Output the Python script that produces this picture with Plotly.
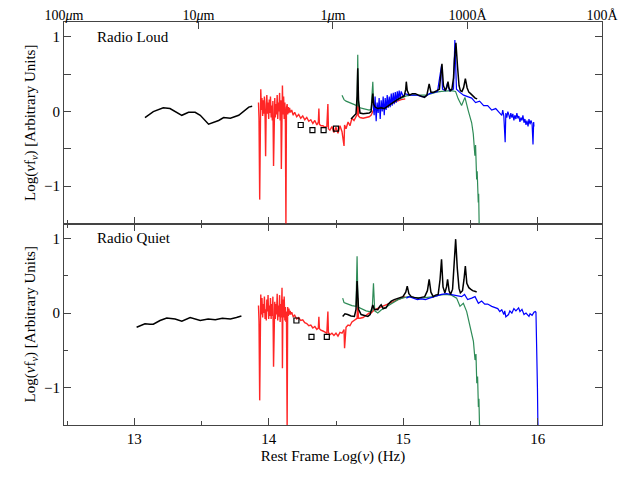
import numpy as np
import plotly.graph_objects as go

# --- data (log nu [Hz], log nu f_nu) ---
# mid-IR composite
rl_ir_nu = [13.079, 13.141, 13.215, 13.265, 13.353, 13.403, 13.452, 13.490, 13.552, 13.627,
            13.664, 13.714, 13.776, 13.851, 13.876]
rl_ir = [-0.08, 0.00, 0.05, 0.04, -0.05, -0.01, -0.01, -0.05, -0.17, -0.12,
         -0.08, -0.09, -0.05, 0.06, 0.07]
rq_ir_nu = [13.017, 13.041, 13.079, 13.116, 13.141, 13.191, 13.241, 13.303, 13.353, 13.415,
            13.490, 13.549, 13.602, 13.654, 13.714, 13.759, 13.796]
rq_ir = [-0.19, -0.17, -0.144, -0.15, -0.15, -0.10, -0.067, -0.08, -0.11, -0.06,
         -0.10, -0.08, -0.09, -0.07, -0.08, -0.06, -0.04]

# near-IR / optical spectrum (red), same grid in both panels
red_nu = [13.923, 13.927, 13.932, 13.937, 13.940, 13.945, 13.949, 13.954, 13.958, 13.963,
          13.967, 13.972, 13.976, 13.981, 13.985, 13.990, 13.994, 13.999, 14.003, 14.008,
          14.012, 14.017, 14.021, 14.026, 14.030, 14.035, 14.039, 14.044, 14.048, 14.053,
          14.057, 14.062, 14.066, 14.071, 14.075, 14.080, 14.084, 14.089, 14.093, 14.098,
          14.101, 14.105, 14.110, 14.114, 14.119, 14.123, 14.127, 14.131, 14.136, 14.140,
          14.145, 14.149, 14.154, 14.159, 14.162, 14.170, 14.181, 14.192, 14.207, 14.222,
          14.237, 14.252, 14.267, 14.282, 14.297, 14.312, 14.327, 14.342, 14.357, 14.368,
          14.372, 14.376, 14.387, 14.402, 14.416, 14.431, 14.439, 14.443, 14.454, 14.469,
          14.484, 14.499, 14.514, 14.529, 14.544, 14.559, 14.563, 14.574, 14.589, 14.603,
          14.618, 14.633, 14.648, 14.656, 14.661, 14.666, 14.678, 14.701, 14.723, 14.746,
          14.760, 14.783, 14.805, 14.835, 14.872, 14.910, 14.947, 14.984, 15.014]
rl_red = [0.12, -0.10, -1.18, 0.05, 0.30, 0.02, 0.18, -0.06, 0.15, -0.03,
          0.20, -0.08, -0.60, 0.10, 0.22, -0.03, 0.12, -0.10, 0.16, -0.02,
          0.20, -0.08, 0.08, -0.12, 0.14, -0.73, 0.05, 0.18, -0.08, 0.10,
          -0.04, 0.22, -0.10, 0.12, 0.00, 0.25, -0.12, 0.15, -0.77, 0.10,
          0.35, -0.04, 0.20, -0.10, 0.12, -0.15, -1.55, 0.05, 0.10, -0.04,
          0.06, -0.02, 0.05, 0.00, -0.01, 0.02, -0.05, -0.01, -0.07, -0.04,
          -0.09, -0.06, -0.11, -0.08, -0.13, -0.11, -0.16, -0.12, -0.18, -0.14,
          0.04, -0.17, -0.19, -0.19, -0.21, -0.20, 0.10, -0.23, -0.25, -0.20,
          -0.28, -0.21, -0.29, -0.19, -0.27, -0.46, -0.18, -0.23, -0.14, -0.19,
          -0.09, -0.12, -0.06, -0.04, 0.25, -0.06, -0.08, -0.09, -0.08, -0.07,
          -0.05, 0.04, 0.05, 0.06, 0.08, 0.11, 0.14, 0.16, 0.17]
rq_red = [0.10, -0.12, -1.17, 0.08, 0.25, -0.02, 0.20, -0.06, 0.12, 0.00,
          0.22, -0.08, 0.05, -0.10, 0.18, 0.02, 0.24, -0.08, 0.10, -0.04,
          0.20, -0.08, 0.12, -0.04, 0.22, -0.72, 0.06, 0.15, -0.08, 0.12,
          -0.02, 0.26, -0.10, 0.10, -0.05, 0.24, -0.12, 0.12, -0.06, 0.34,
          -0.74, 0.18, -0.06, 0.22, -0.10, 0.08, -0.12, 0.02, -1.55, 0.08,
          -0.04, 0.06, -0.02, 0.03, -0.02, 0.01, -0.05, -0.03, -0.08, -0.06,
          -0.10, -0.09, -0.13, -0.14, -0.17, -0.16, -0.20, -0.18, -0.22, -0.20,
          -0.05, -0.21, -0.23, -0.24, -0.26, -0.27, 0.02, -0.26, -0.29, -0.27,
          -0.30, -0.27, -0.31, -0.26, -0.27, -0.22, -0.47, -0.19, -0.16, -0.17,
          -0.12, -0.10, -0.08, -0.07, 0.20, -0.07, -0.07, -0.06, -0.03, 0.00,
          0.00, 0.04, 0.06, 0.08, 0.11, 0.14, 0.17, 0.20, 0.22]

# optical/UV spectrum (green)
rl_green_nu = [14.544, 14.559, 14.574, 14.596, 14.618, 14.641, 14.656, 14.661, 14.666, 14.678,
               14.701, 14.723, 14.746, 14.760, 14.773, 14.780, 14.798, 14.835, 14.872, 14.910,
               14.947, 14.984, 15.022, 15.059, 15.097, 15.134, 15.171, 15.209, 15.246, 15.284,
               15.321, 15.358, 15.388, 15.408, 15.433, 15.458, 15.483, 15.508, 15.520, 15.532,
               15.537, 15.541, 15.545, 15.549, 15.552, 15.555, 15.557, 15.560, 15.562, 15.564]
rl_green = [0.22, 0.16, 0.14, 0.12, 0.10, 0.09, 0.08, 0.76, 0.08, 0.05,
            0.04, 0.03, 0.02, 0.03, 0.40, 0.06, 0.03, 0.06, 0.09, 0.12,
            0.15, 0.18, 0.21, 0.22, 0.22, 0.21, 0.22, 0.24, 0.26, 0.27,
            0.28, 0.28, 0.27, 0.17, 0.08, 0.19, 0.01, -0.15, -0.30, -0.59,
            -0.45, -0.75, -0.91, -0.80, -1.10, -0.98, -1.22, -1.10, -1.49, -1.55]
rq_green_nu = [14.549, 14.559, 14.574, 14.598, 14.618, 14.648, 14.656, 14.663, 14.701, 14.723,
               14.748, 14.768, 14.778, 14.787, 14.810, 14.835, 14.872, 14.910, 14.960, 14.992,
               15.034, 15.074, 15.134, 15.179, 15.224, 15.269, 15.313, 15.358, 15.396, 15.421,
               15.446, 15.471, 15.496, 15.521, 15.533, 15.540, 15.546, 15.552, 15.558, 15.562,
               15.566, 15.568]
rq_green = [0.20, 0.14, 0.13, 0.11, 0.10, 0.09, 0.76, 0.08, 0.045, 0.03,
            0.02, 0.03, 0.40, 0.03, 0.00, 0.04, 0.08, 0.12, 0.18, 0.20,
            0.22, 0.21, 0.20, 0.21, 0.22, 0.24, 0.25, 0.24, 0.20, 0.09,
            0.13, 0.02, -0.16, -0.38, -0.63, -0.55, -0.94, -0.85, -1.26, -1.15,
            -1.48, -1.55]

# UV spectrum (blue)
rl_blue_nu = [14.775, 14.783, 14.790, 14.798, 14.805, 14.813, 14.820, 14.828, 14.835, 14.843,
              14.850, 14.858, 14.865, 14.872, 14.880, 14.887, 14.895, 14.902, 14.910, 14.917,
              14.925, 14.932, 14.940, 14.947, 14.955, 14.962, 14.969, 14.977, 14.984, 14.999,
              15.014, 15.044, 15.074, 15.104, 15.134, 15.164, 15.194, 15.224, 15.254, 15.284,
              15.291, 15.313, 15.328, 15.343, 15.373, 15.383, 15.395, 15.418, 15.448, 15.478,
              15.508, 15.537, 15.567, 15.597, 15.627, 15.657, 15.687, 15.717, 15.732, 15.739,
              15.747, 15.757, 15.762, 15.769, 15.777, 15.784, 15.792, 15.799, 15.807, 15.814,
              15.822, 15.829, 15.837, 15.844, 15.852, 15.859, 15.867, 15.874, 15.882, 15.889,
              15.897, 15.904, 15.912, 15.919, 15.927, 15.934, 15.942, 15.949, 15.957, 15.964,
              15.969, 15.971]
rl_blue = [0.10, -0.05, 0.20, -0.13, 0.12, -0.02, 0.18, -0.10, 0.15, 0.00,
           0.20, -0.05, 0.18, 0.02, 0.22, 0.05, 0.20, 0.06, 0.24, 0.08,
           0.25, 0.10, 0.26, 0.12, 0.27, 0.15, 0.28, 0.17, 0.27, 0.20,
           0.24, 0.22, 0.22, 0.22, 0.20, 0.20, 0.24, 0.25, 0.27, 0.62,
           0.30, 0.28, 0.38, 0.28, 0.30, 0.96, 0.30, 0.26, 0.22, 0.20,
           0.18, 0.12, 0.14, 0.08, 0.08, 0.02, 0.04, -0.02, -0.05, 0.02,
           -0.06, -0.41, -0.02, -0.08, 0.00, -0.04, -0.10, -0.02, -0.08, -0.03,
           -0.12, -0.05, -0.10, -0.02, -0.09, -0.06, -0.14, -0.08, -0.12, -0.05,
           -0.15, -0.10, -0.18, -0.12, -0.20, -0.10, -0.17, -0.12, -0.16, -0.44,
           -0.14, -0.20]
rq_blue_nu = [15.022, 15.044, 15.074, 15.104, 15.134, 15.164, 15.194, 15.224, 15.254, 15.284,
              15.321, 15.358, 15.396, 15.433, 15.455, 15.478, 15.508, 15.533, 15.558, 15.582,
              15.605, 15.627, 15.657, 15.680, 15.702, 15.717, 15.732, 15.747, 15.754, 15.762,
              15.782, 15.792, 15.807, 15.822, 15.837, 15.857, 15.867, 15.882, 15.897, 15.912,
              15.934, 15.942, 15.957, 15.971, 15.981, 15.986, 15.993, 15.997, 16.000, 16.002]
rq_blue = [0.20, 0.22, 0.20, 0.18, 0.19, 0.18, 0.20, 0.22, 0.24, 0.25,
           0.26, 0.25, 0.24, 0.22, 0.25, 0.18, 0.20, 0.22, 0.13, 0.16,
           0.12, 0.12, 0.09, 0.07, 0.06, 0.02, 0.045, -0.02, 0.03, -0.05,
           -0.02, 0.03, 0.00, 0.06, 0.03, 0.07, 0.02, 0.05, -0.02, 0.00,
           -0.045, -0.01, -0.03, 0.01, 0.02, 0.01, -0.50, -1.00, -1.44, -1.55]

# composite quasar spectrum (black)
rl_uv_nu = [14.611, 14.633, 14.648, 14.656, 14.661, 14.667, 14.678, 14.701, 14.723, 14.746,
            14.760, 14.768, 14.773, 14.779, 14.790, 14.810, 14.835, 14.858, 14.880, 14.910,
            14.932, 14.955, 14.984, 15.007, 15.018, 15.022, 15.029, 15.044, 15.067, 15.089,
            15.112, 15.134, 15.157, 15.175, 15.192, 15.205, 15.227, 15.249, 15.268, 15.279,
            15.287, 15.298, 15.312, 15.324, 15.332, 15.339, 15.349, 15.361, 15.373, 15.380,
            15.391, 15.403, 15.414, 15.424, 15.436, 15.448, 15.461, 15.474, 15.487, 15.500,
            15.511, 15.523, 15.534, 15.549]
rl_uv = [-0.10, -0.06, -0.03, 0.20, 0.58, 0.15, -0.02, -0.03, -0.03, -0.02,
         0.00, 0.12, 0.24, 0.10, 0.06, 0.04, 0.05, 0.04, 0.07, 0.10,
         0.13, 0.16, 0.19, 0.21, 0.30, 0.40, 0.28, 0.22, 0.24, 0.24,
         0.22, 0.20, 0.19, 0.22, 0.37, 0.26, 0.26, 0.28, 0.30, 0.50,
         0.64, 0.35, 0.28, 0.33, 0.40, 0.32, 0.28, 0.30, 0.45, 0.70,
         0.92, 0.60, 0.35, 0.28, 0.27, 0.32, 0.44, 0.32, 0.26, 0.24,
         0.22, 0.20, 0.18, 0.17]
rq_uv_nu = [14.549, 14.566, 14.586, 14.611, 14.636, 14.648, 14.656, 14.667, 14.686, 14.708,
            14.736, 14.753, 14.764, 14.773, 14.783, 14.810, 14.824, 14.835, 14.850, 14.872,
            14.887, 14.910, 14.932, 14.960, 14.984, 14.997, 15.018, 15.029, 15.041, 15.059,
            15.082, 15.110, 15.134, 15.159, 15.179, 15.192, 15.205, 15.222, 15.239, 15.259,
            15.273, 15.284, 15.295, 15.309, 15.321, 15.329, 15.340, 15.351, 15.366, 15.378,
            15.389, 15.401, 15.414, 15.424, 15.440, 15.451, 15.461, 15.472, 15.487, 15.500,
            15.515, 15.536, 15.545]
rq_uv = [-0.045, -0.01, -0.02, -0.04, -0.045, 0.05, 0.43, 0.05, -0.02, -0.03,
         -0.045, -0.02, 0.05, 0.11, 0.05, 0.045, 0.09, 0.11, 0.06, 0.07,
         0.12, 0.16, 0.18, 0.20, 0.21, 0.22, 0.28, 0.36, 0.26, 0.22,
         0.21, 0.20, 0.21, 0.22, 0.30, 0.45, 0.28, 0.22, 0.24, 0.25,
         0.45, 0.72, 0.35, 0.27, 0.35, 0.45, 0.30, 0.25, 0.32, 0.70,
         0.99, 0.60, 0.33, 0.27, 0.30, 0.45, 0.63, 0.40, 0.34, 0.32,
         0.30, 0.29, 0.28]

# near-IR photometry (open squares)
rl_phot_nu = [14.237, 14.324, 14.407, 14.499]
rl_phot = [-0.18, -0.25, -0.25, -0.23]
rq_phot_nu = [14.205, 14.317, 14.431]
rq_phot = [-0.10, -0.32, -0.32]

# top axis: wavelength labels
wave_m = [1e-4, 1e-5, 1e-6, 1e-7, 1e-8]
wave_labels = ["100<i>μ</i>m", "10<i>μ</i>m", "1<i>μ</i>m", "1000Å", "100Å"]

xrange_ = [12.477, 16.477]
yrange_ = [-1.5, 1.2]
FONT = "Liberation Serif"
AXCOL = "#444444"
RED = "rgba(255,0,0,0.85)"
GREEN = "#2e8b57"
BLUE = "#0000ff"

fig = go.Figure()

panels = [
    ("x2", "y", rl_ir_nu, rl_ir, rl_red, rl_green_nu, rl_green, rl_blue_nu, rl_blue,
     rl_uv_nu, rl_uv, rl_phot_nu, rl_phot),
    ("x", "y2", rq_ir_nu, rq_ir, rq_red, rq_green_nu, rq_green, rq_blue_nu, rq_blue,
     rq_uv_nu, rq_uv, rq_phot_nu, rq_phot),
]
for xa, ya, irx, iry, redy, gx, gy, bx, by, ux, uy, px, py in panels:
    fig.add_trace(go.Scatter(x=irx, y=iry, mode="lines", xaxis=xa, yaxis=ya,
                             line=dict(color="black", width=1.5)))
    fig.add_trace(go.Scatter(x=red_nu, y=redy, mode="lines", xaxis=xa, yaxis=ya,
                             line=dict(color=RED, width=1.4)))
    fig.add_trace(go.Scatter(x=gx, y=gy, mode="lines", xaxis=xa, yaxis=ya,
                             line=dict(color=GREEN, width=1.2)))
    fig.add_trace(go.Scatter(x=bx, y=by, mode="lines", xaxis=xa, yaxis=ya,
                             line=dict(color=BLUE, width=1.2)))
    fig.add_trace(go.Scatter(x=ux, y=uy, mode="lines", xaxis=xa, yaxis=ya,
                             line=dict(color="black", width=1.5)))
    fig.add_trace(go.Scatter(x=px, y=py, mode="markers", xaxis=xa, yaxis=ya,
                             marker=dict(symbol="square-open", size=5, color="black",
                                         line=dict(width=1.2))))

tickfont = dict(family=FONT, size=15, color="black")
common_x = dict(range=xrange_, showgrid=False, zeroline=False, showline=True,
                linecolor=AXCOL, linewidth=1, ticks="inside", ticklen=7,
                tickcolor=AXCOL, tick0=13, dtick=1, automargin=False,
                minor=dict(dtick=0.5, ticklen=4, ticks="inside", tickcolor=AXCOL))
common_y = dict(range=yrange_, showgrid=False, zeroline=False, showline=True,
                linecolor=AXCOL, linewidth=1, ticks="inside", ticklen=7,
                tickcolor=AXCOL, tick0=0, dtick=1, mirror="allticks",
                tickfont=tickfont, tickformat="d", automargin=False,
                minor=dict(dtick=0.5, ticklen=4, ticks="inside", tickcolor=AXCOL),
                title=dict(text="Log(<i>ν</i>f<sub><i>ν</i></sub>) [Arbitrary Units]",
                           font=dict(family=FONT, size=15, color="black"), standoff=4))

top_ticks = [float(np.log10(2.998e8 / w)) for w in wave_m]

# the page body adds 8 px around the figure, margins account for it
fig.update_layout(
    width=640, height=479,
    margin=dict(l=56, r=46, t=14, b=62),
    paper_bgcolor="white", plot_bgcolor="white",
    showlegend=False,
    xaxis=dict(common_x, anchor="y2", mirror="allticks", tickfont=tickfont,
               title=dict(text="Rest Frame Log(<i>ν</i>) (Hz)",
                          font=dict(family=FONT, size=15, color="black"), standoff=4)),
    xaxis2=dict(common_x, anchor="y", matches="x", showticklabels=False),
    xaxis3=dict(range=xrange_, overlaying="x2", anchor="y", side="top",
                showgrid=False, zeroline=False, showline=True, linecolor=AXCOL,
                ticks="inside", ticklen=7, tickcolor=AXCOL, automargin=False,
                ticklabelstandoff=-5,
                tickvals=top_ticks, ticktext=wave_labels,
                tickfont=dict(family=FONT, size=14, color="black")),
    yaxis=dict(common_y, domain=[0.5, 1.0], anchor="x2"),
    yaxis2=dict(common_y, domain=[0.0, 0.5], anchor="x"),
)
# an empty trace so the wavelength axis gets drawn
fig.add_trace(go.Scatter(x=[], y=[], xaxis="x3", yaxis="y", showlegend=False))

for label, ya in [("Radio Loud", "y"), ("Radio Quiet", "y2")]:
    fig.add_annotation(text=label, xref="paper", yref=ya, x=0.057, y=1.0,
                       xanchor="left", yanchor="middle", showarrow=False,
                       font=dict(family=FONT, size=15, color="black"))

fig.write_html("out.html")
